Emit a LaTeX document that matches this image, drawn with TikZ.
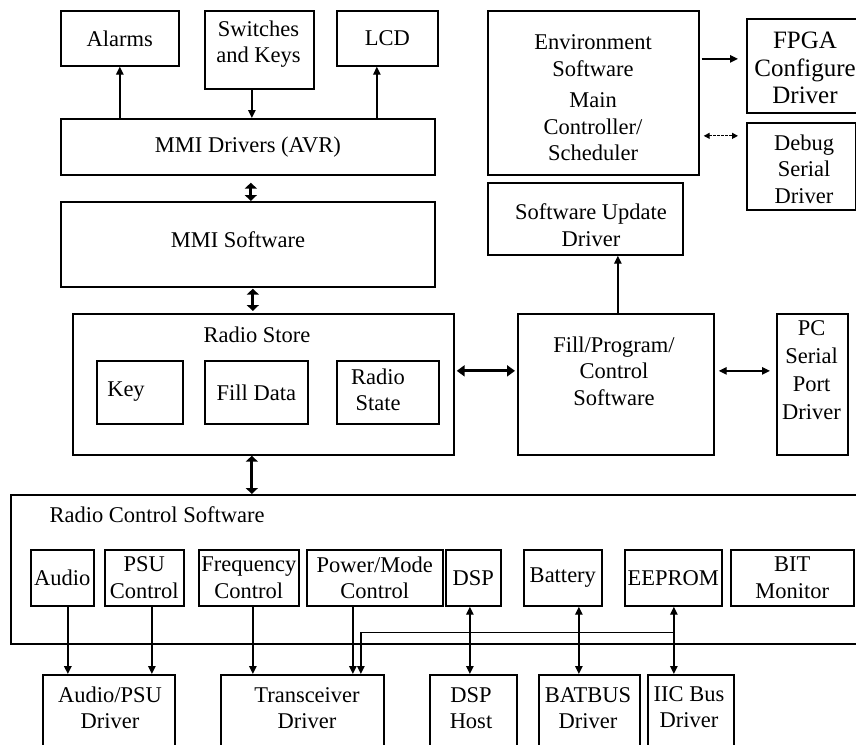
\documentclass[tikz,border=0pt]{standalone}
\usepackage{fontspec}
\setmainfont{Liberation Serif}
\usetikzlibrary{arrows.meta,calc}

\tikzset{
  box/.style={draw, line width=1.7pt, inner sep=0pt, anchor=north west, align=center},
  lbl/.style={align=center, inner sep=0pt},
  arr/.style={line width=1.4pt, -{Triangle[length=8pt,width=7.5pt]}},
  darr/.style={line width=1.4pt, {Triangle[length=8pt,width=7.5pt]}-{Triangle[length=8pt,width=7.5pt]}},
  bigarr/.style={line width=3.2pt, {Triangle[length=6pt,width=12pt]}-{Triangle[length=6pt,width=12pt]}},
  widearr/.style={line width=2.8pt, {Triangle[length=8pt,width=11pt]}-{Triangle[length=8pt,width=11pt]}},
  dasharr/.style={line width=1.2pt, dash pattern=on 2.5pt off 1.5pt, {Triangle[length=6pt,width=6pt]}-{Triangle[length=6pt,width=6pt]}},
}

\begin{document}
\begin{tikzpicture}[x=1pt, y=-1pt, every node/.style={font=\fontsize{22.5}{26.5}\selectfont}]
\path[use as bounding box] (0,0) rectangle (856,744);
\fill[white] (0,0) rectangle (856,744);
\clip (0,0) rectangle (856,744);

% --- MMI section ---
\node[box, minimum width=118pt, minimum height=55pt] (alarms) at (60,10) {Alarms};
\node[box, minimum width=109pt, minimum height=78pt] (switches) at (204,10) {};
\node[lbl] (switchesT) at (258.5,44) {Switches\\and Keys};
\node[box, minimum width=101pt, minimum height=55pt] (lcd) at (336,10) {LCD};
\node[box, minimum width=374pt, minimum height=56pt] (mmid) at (60,118) {MMI Drivers (AVR)};
\node[box, minimum width=374pt, minimum height=85pt] (mmis) at (60,201) {};
\node[lbl] (mmisT) at (238,240) {MMI Software};

% --- Radio store ---
\node[box, minimum width=381pt, minimum height=141pt] (store) at (72,313) {};
\node[lbl] (storeT) at (257,335) {Radio Store};
\node[box, minimum width=86pt, minimum height=63pt] (key) at (96,360) {};
\node[lbl] (keyT) at (126,392) {Key};
\node[box, minimum width=103pt, minimum height=63pt] (filldata) at (204,360) {Fill Data};
\node[box, minimum width=102pt, minimum height=63pt] (rstate) at (336,360) {};
\node[lbl] (rstateT) at (378,390) {Radio\\State};

% --- Fill / program and PC port ---
\node[box, minimum width=196pt, minimum height=141pt] (fillp) at (517,313) {};
\node[lbl] (fillpT) at (614,371) {Fill/Program/\\Control\\Software};
\node[box, minimum width=71pt, minimum height=141pt] (pc) at (776,313) {};
\node[lbl, font=\fontsize{22.5}{28}\selectfont] (pcT) at (811.5,370) {PC\\Serial\\Port\\Driver};

% --- Environment software and its drivers ---
\node[box, minimum width=211pt, minimum height=164pt] (env) at (487,10) {};
\node[lbl] (envT) at (593,98) {Environment\\Software\\[5pt]Main\\Controller/\\Scheduler};
\node[box, minimum width=124pt, minimum height=94pt] (fpga) at (746,18) {};
\node[lbl, font=\fontsize{25}{27.5}\selectfont] (fpgaT) at (805,68) {FPGA\\Configure\\Driver};
\node[box, minimum width=109pt, minimum height=87pt] (debug) at (746,122) {};
\node[lbl] (debugT) at (804,169) {Debug\\Serial\\Driver};
\node[box, minimum width=195pt, minimum height=72pt] (swu) at (487,182) {};
\node[lbl] (swuT) at (591,225) {Software Update\\Driver};

% --- Radio control software ---
\node[box, minimum width=860pt, minimum height=149pt] (rcs) at (10,494) {};
\node[lbl] (rcsT) at (157,515) {Radio Control Software};
\node[box, minimum width=63pt, minimum height=56pt] (audio) at (30,549) {Audio};
\node[box, minimum width=79pt, minimum height=56pt] (psu) at (104,549) {PSU\\Control};
\node[box, minimum width=100pt, minimum height=56pt] (freq) at (198,549) {Frequency\\Control};
\node[box, minimum width=136pt, minimum height=56pt] (pwr) at (306,549) {Power/Mode\\Control};
\node[box, minimum width=55pt, minimum height=56pt] (dsp) at (445,549) {DSP};
\node[box, minimum width=78pt, minimum height=56pt] (batt) at (523,549) {Battery};
\node[box, minimum width=97pt, minimum height=56pt] (eeprom) at (624,549) {EEPROM};
\node[box, minimum width=123pt, minimum height=56pt] (bit) at (730,549) {BIT\\Monitor};

% --- Hardware drivers ---
\node[box, minimum width=132pt, minimum height=110pt] (apsu) at (42,674) {};
\node[lbl] (apsuT) at (110,708) {Audio/PSU\\Driver};
\node[box, minimum width=163pt, minimum height=110pt] (xcvr) at (220,674) {};
\node[lbl] (xcvrT) at (307,708) {Transceiver\\Driver};
\node[box, minimum width=87pt, minimum height=110pt] (dsph) at (429,674) {};
\node[lbl] (dsphT) at (471,708) {DSP\\Host};
\node[box, minimum width=101pt, minimum height=110pt] (batbus) at (538,674) {};
\node[lbl] (batbusT) at (588,708) {BATBUS\\Driver};
\node[box, minimum width=86pt, minimum height=110pt] (iic) at (647,674) {};
\node[lbl] (iicT) at (689,707) {IIC Bus\\Driver};

% --- Connectors: MMI ---
\draw[arr] (alarms.south |- mmid.north) -- (alarms.south);
\draw[arr] ([xshift=-7.5pt]switches.south) -- ([xshift=-7.5pt]switches.south |- mmid.north);
\draw[arr] ([xshift=-10.5pt]lcd.south |- mmid.north) -- ([xshift=-10.5pt]lcd.south);
\draw[bigarr] ([xshift=3pt,yshift=-7pt]mmid.south) -- ([xshift=3pt]mmid.south |- mmis.north);
\draw[bigarr] ([xshift=5pt,yshift=-1pt]mmis.south) -- ([xshift=5pt,yshift=2pt]mmis.south |- store.north);
\draw[bigarr] ([xshift=-11.5pt]store.south) -- ([xshift=-11.5pt]store.south |- rcs.north);

% --- Connectors: store, fill, PC, environment ---
\draw[widearr, shorten <=2pt, shorten >=2pt] ([yshift=13.5pt]store.east) -- ([yshift=13.5pt]store.east -| fillp.west);
\draw[darr, shorten <=4pt, shorten >=6pt] ([yshift=13.5pt]fillp.east) -- ([yshift=13.5pt]fillp.east -| pc.west);
\draw[arr] ([xshift=2pt]fillp.north) -- ([xshift=2pt]fillp.north |- swu.south);
\draw[arr, shorten <=2pt, shorten >=8pt] ([yshift=34pt]env.east) -- ([yshift=34pt]env.east -| fpga.west);
\draw[dasharr, shorten <=4pt, shorten >=8pt] ([yshift=-43pt]env.east) -- ([yshift=-43pt]env.east -| debug.west);

% --- Connectors: radio control to drivers ---
\draw[arr, line width=1.8pt] ([xshift=5.5pt]audio.south) -- ([xshift=5.5pt]audio.south |- apsu.north);
\draw[arr] ([xshift=7.5pt]psu.south) -- ([xshift=7.5pt]psu.south |- apsu.north);
\draw[arr] ([xshift=4pt]freq.south) -- ([xshift=4pt]freq.south |- xcvr.north);
\draw[arr] ([xshift=-22pt]pwr.south) -- ([xshift=-22pt]pwr.south |- xcvr.north);
\draw[darr] ([xshift=-3.5pt]dsp.south) -- ([xshift=-3.5pt]dsp.south |- dsph.north);
\draw[darr] ([xshift=16pt]batt.south) -- ([xshift=16pt]batt.south |- batbus.north);
\draw[darr] ([xshift=0.5pt]eeprom.south) -- ([xshift=0.5pt]eeprom.south |- iic.north);
\coordinate (tap) at ($(eeprom.south)+(0.5,26)$);
\draw[arr] (tap) -| ([xshift=58.5pt]xcvr.north);
\end{tikzpicture}
\end{document}
